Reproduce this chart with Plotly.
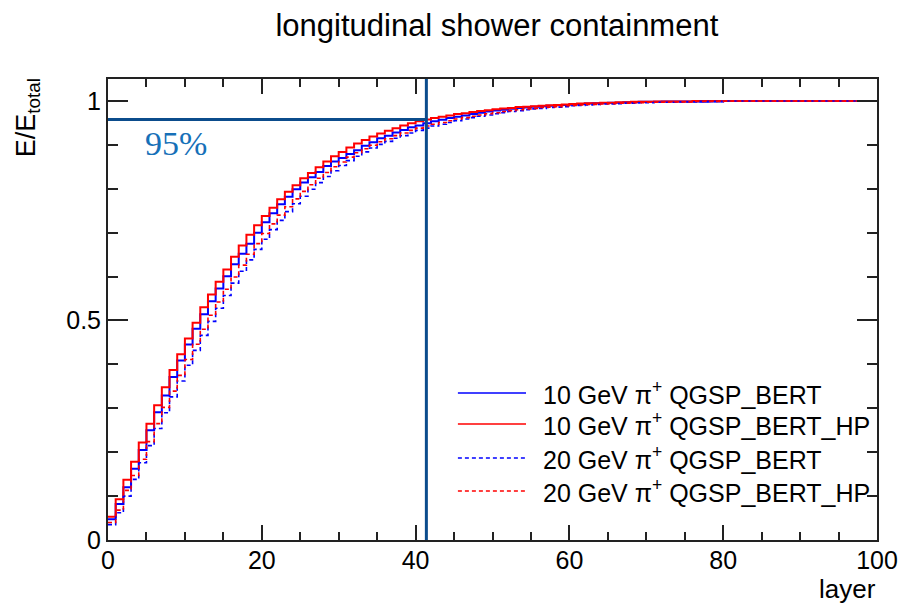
import plotly.graph_objects as go

# ---------------- data (cumulative energy fraction per layer) ----------------
layers = list(range(0, 101))  # bin edges 0..100

e10_bert = [
    0.047, 0.082, 0.120, 0.162, 0.205, 0.250, 0.291, 0.329, 0.371, 0.409,
    0.445, 0.481, 0.514, 0.544, 0.573, 0.601, 0.628, 0.652, 0.675, 0.700,
    0.724, 0.744, 0.765, 0.782, 0.799, 0.814, 0.826, 0.838, 0.852, 0.862,
    0.870, 0.879, 0.888, 0.898, 0.906, 0.915, 0.921, 0.928, 0.934, 0.940,
    0.944, 0.949, 0.954, 0.957, 0.961, 0.964, 0.967, 0.970, 0.973, 0.976,
    0.978, 0.980, 0.982, 0.984, 0.985, 0.987, 0.988, 0.989, 0.990, 0.991,
    0.992, 0.993, 0.994, 0.995, 0.995, 0.996, 0.996, 0.997, 0.997, 0.998,
    0.998, 0.998, 0.999, 0.999, 0.999, 0.999, 0.999, 0.998, 0.999, 0.999,
    1.0, 1.0, 1.0, 1.0, 1.0, 1.0, 1.0, 1.0, 1.0, 1.0,
    1.0, 1.0, 1.0, 1.0, 1.0, 1.0, 1.0, 1.0, 1.0, 1.0,
]
e10_bert_hp = [
    0.053, 0.093, 0.137, 0.178, 0.222, 0.265, 0.307, 0.348, 0.387, 0.423,
    0.459, 0.495, 0.530, 0.559, 0.588, 0.616, 0.645, 0.671, 0.695, 0.717,
    0.738, 0.757, 0.776, 0.793, 0.808, 0.824, 0.836, 0.849, 0.862, 0.874,
    0.884, 0.894, 0.903, 0.911, 0.919, 0.926, 0.932, 0.938, 0.944, 0.949,
    0.954, 0.958, 0.961, 0.964, 0.967, 0.970, 0.972, 0.975, 0.977, 0.979,
    0.981, 0.983, 0.984, 0.986, 0.987, 0.988, 0.989, 0.990, 0.991, 0.992,
    0.993, 0.994, 0.995, 0.995, 0.996, 0.996, 0.997, 0.997, 0.998, 0.998,
    0.998, 0.999, 0.999, 0.999, 0.999, 0.999, 1.0, 1.0, 1.0, 1.0,
    1.0, 1.0, 1.0, 1.0, 1.0, 1.0, 1.0, 1.0, 1.0, 1.0,
    1.0, 1.0, 1.0, 1.0, 1.0, 1.0, 1.0, 1.0, 1.0, 1.0,
]
e20_bert = [
    0.035, 0.062, 0.100, 0.138, 0.176, 0.215, 0.254, 0.290, 0.326, 0.362,
    0.398, 0.432, 0.466, 0.498, 0.528, 0.557, 0.585, 0.612, 0.638, 0.662,
    0.685, 0.707, 0.728, 0.748, 0.766, 0.783, 0.799, 0.814, 0.828, 0.841,
    0.853, 0.864, 0.874, 0.884, 0.893, 0.901, 0.908, 0.915, 0.921, 0.927,
    0.933, 0.938, 0.943, 0.947, 0.951, 0.955, 0.959, 0.962, 0.965, 0.968,
    0.971, 0.973, 0.976, 0.978, 0.980, 0.982, 0.983, 0.985, 0.986, 0.987,
    0.989, 0.990, 0.991, 0.992, 0.993, 0.993, 0.994, 0.995, 0.995, 0.996,
    0.996, 0.997, 0.997, 0.997, 0.998, 0.998, 0.998, 0.999, 0.999, 0.999,
    1.0, 1.0, 1.0, 1.0, 1.0, 1.0, 1.0, 1.0, 1.0, 1.0,
    1.0, 1.0, 1.0, 1.0, 1.0, 1.0, 1.0, 1.0, 1.0, 1.0,
]
e20_bert_hp = [
    0.040, 0.068, 0.113, 0.147, 0.184, 0.224, 0.265, 0.302, 0.339, 0.375,
    0.411, 0.446, 0.480, 0.512, 0.542, 0.571, 0.599, 0.626, 0.651, 0.675,
    0.698, 0.720, 0.740, 0.759, 0.777, 0.794, 0.809, 0.824, 0.837, 0.850,
    0.861, 0.872, 0.882, 0.891, 0.899, 0.907, 0.914, 0.921, 0.927, 0.933,
    0.938, 0.943, 0.947, 0.951, 0.955, 0.959, 0.962, 0.965, 0.968, 0.971,
    0.973, 0.976, 0.978, 0.980, 0.982, 0.983, 0.985, 0.986, 0.987, 0.989,
    0.990, 0.991, 0.992, 0.992, 0.993, 0.994, 0.995, 0.995, 0.996, 0.996,
    0.997, 0.997, 0.997, 0.998, 0.998, 0.998, 0.999, 0.999, 0.999, 0.999,
    1.0, 1.0, 1.0, 1.0, 1.0, 1.0, 1.0, 1.0, 1.0, 1.0,
    1.0, 1.0, 1.0, 1.0, 1.0, 1.0, 1.0, 1.0, 1.0, 1.0,
]

series_names = [
    "10 GeV π<sup>+</sup> QGSP_BERT",
    "10 GeV π<sup>+</sup> QGSP_BERT_HP",
    "20 GeV π<sup>+</sup> QGSP_BERT",
    "20 GeV π<sup>+</sup> QGSP_BERT_HP",
]
series_values = [e10_bert, e10_bert_hp, e20_bert, e20_bert_hp]
series_colors = ["#0000ff", "#ff0000", "#0000ff", "#ff0000"]
series_dash = ["solid", "solid", "4px,3px", "4px,3px"]
series_width = [2, 2, 1.6, 1.6]

containment_level = 0.958   # "95%" line
containment_layer = 41.4
containment_label = "95%"

title_text = "longitudinal shower containment"
x_title = "layer"
y_title = "E/E<sub>total</sub>"

# ---------------- figure ----------------
FONT = "Liberation Sans, Arial, sans-serif"
fig = go.Figure()

for i in range(4):
    vals = series_values[i]
    fig.add_trace(go.Scatter(
        x=layers,
        y=vals + [vals[-1]],
        mode="lines",
        line=dict(shape="hv", color=series_colors[i], width=series_width[i], dash=series_dash[i]),
        name=series_names[i],
        showlegend=False,
        hoverinfo="skip",
    ))

line_col = "#0b4c8c"
fig.add_shape(type="line", xref="x", yref="y", x0=0, x1=containment_layer,
              y0=containment_level, y1=containment_level,
              line=dict(color=line_col, width=3), layer="above")
fig.add_shape(type="line", xref="x", yref="y", x0=containment_layer, x1=containment_layer,
              y0=0, y1=1.05, line=dict(color=line_col, width=3), layer="above")

fig.add_annotation(text=containment_label, xref="paper", yref="paper",
                   x=0.0885, y=0.861, xanchor="center", yanchor="middle", showarrow=False,
                   font=dict(family="Liberation Serif, DejaVu Serif, serif", size=34, color="#1670b8"))

# manual legend (ROOT style)
leg_rows = [0.3189, 0.2516, 0.1779, 0.1063]
for i, yy in enumerate(leg_rows):
    fig.add_shape(type="line", xref="paper", yref="paper", x0=0.455, x1=0.5436,
                  y0=yy, y1=yy,
                  line=dict(color=series_colors[i], width=1.6 if i < 2 else 1.3,
                            dash=series_dash[i]))
    fig.add_annotation(text=series_names[i], xref="paper", yref="paper",
                       x=0.5628, y=yy, xanchor="left", yanchor="middle", showarrow=False,
                       font=dict(family=FONT, size=25, color="black"))

# axis titles
fig.add_annotation(text=y_title, xref="paper", yref="paper", x=-0.104, y=1.005,
                   xanchor="center", yanchor="top", textangle=-90, showarrow=False,
                   font=dict(family=FONT, size=27, color="black"))
fig.add_annotation(text=x_title, xref="paper", yref="paper", x=1.0, y=-0.1405,
                   xanchor="right", yanchor="bottom", showarrow=False, borderpad=0,
                   font=dict(family=FONT, size=26, color="black"))

axis_common = dict(
    showgrid=False, zeroline=False, showline=True, linecolor="#222", linewidth=2,
    mirror="ticks", ticks="inside", tickcolor="#222", tickwidth=1.5,
    tickfont=dict(family=FONT, size=25, color="black"),
)
fig.update_xaxes(range=[0, 100], tickvals=[0, 20, 40, 60, 80, 100], ticklen=15,
                 ticklabelstandoff=-3,
                 minor=dict(dtick=5, tick0=0, ticklen=8, ticks="inside", tickcolor="#222", tickwidth=1.5),
                 **axis_common)
fig.update_yaxes(range=[0, 1.05], tickvals=[0, 0.5, 1], ticktext=["0", "0.5", "1"], ticklen=20,
                 minor=dict(dtick=0.1, tick0=0, ticklen=10, ticks="inside", tickcolor="#222", tickwidth=1.5),
                 **axis_common)

fig.update_layout(
    width=910, height=605,
    margin=dict(l=108, r=22, t=79, b=65),
    paper_bgcolor="white", plot_bgcolor="white",
    showlegend=False,
    title=dict(text=title_text, x=0.546, xanchor="center", y=0.959, yanchor="middle",
               font=dict(family=FONT, size=31, color="black")),
)

fig.write_html("out.html")
